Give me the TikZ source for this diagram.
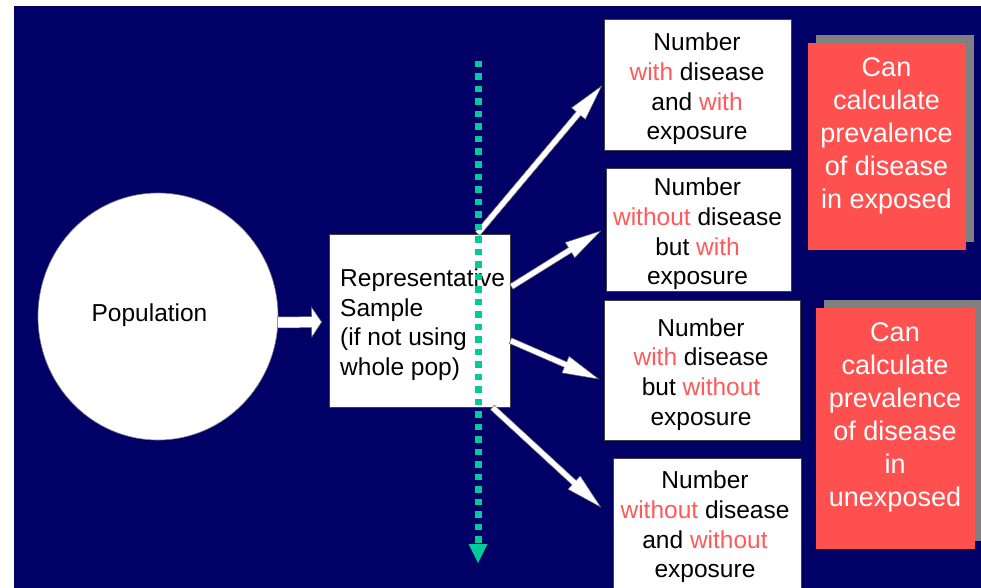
\documentclass[tikz,border=0pt]{standalone}
\usepackage{fontspec}
\setmainfont{Liberation Sans}
\usetikzlibrary{calc,shapes.geometric,shadows}

\definecolor{bgnavy}{HTML}{000066}
\definecolor{boxred}{HTML}{FF5050}
\definecolor{wordred}{HTML}{FF5A5A}
\definecolor{shadowgray}{HTML}{808080}
\definecolor{divider}{HTML}{00CC99}

\newcommand{\redword}[1]{\textcolor{wordred}{#1}}

% Block arrow from #1 to #2: half shaft width #3, half head width #4, head length #5 (pt)
\newcommand{\blockarrow}[5]{%
  \draw[arrowbody] let \p1=($(#2)-(#1)$), \n1={atan2(\y1,\x1)}, \n2={veclen(\x1,\y1)} in
    ($(#1)+(\n1+90:#3pt)$)
    -- ($(#1)+(\n1:{\n2-#5pt})+(\n1+90:#3pt)$)
    -- ($(#1)+(\n1:{\n2-#5pt})+(\n1+90:#4pt)$)
    -- (#2)
    -- ($(#1)+(\n1:{\n2-#5pt})+(\n1-90:#4pt)$)
    -- ($(#1)+(\n1:{\n2-#5pt})+(\n1-90:#3pt)$)
    -- ($(#1)+(\n1-90:#3pt)$)
    -- cycle;}

\begin{document}
\begin{tikzpicture}[x=1pt,y=-1pt,
  wbox/.style={rectangle, draw=black!75, line width=0.8pt, fill=white, inner sep=0pt},
  redbox/.style={rectangle, fill=boxred, inner sep=0pt,
    general shadow={fill=shadowgray, shadow xshift=8pt, shadow yshift=8pt}},
  bodytext/.style={font=\fontsize{24.5}{29.7}\selectfont, align=center, inner sep=0pt, text=black},
  redtext/.style={font=\fontsize{27}{33}\selectfont, align=center, inner sep=0pt, text=white},
  arrowbody/.style={fill=white, draw=black!60, line width=0.5pt, line join=miter},
]
\useasboundingbox (0,0) rectangle (981,588);
\clip (0,0) rectangle (981,588);
\fill[bgnavy] (14,6) rectangle (981,588);

% conclusion panels
\node[redbox, minimum width=158pt, minimum height=207pt] (r1) at (887,146.5) {};
\node[redtext] (r1t) at (886.5,135.5) {Can\\calculate\\prevalence\\of disease\\in exposed};
\node[redbox, minimum width=159pt, minimum height=241pt] (r2) at (895.5,428.5) {};
\node[redtext] (r2t) at (895,417.5) {Can\\calculate\\prevalence\\of disease\\in\\unexposed};

% outcome boxes
\node[wbox, minimum width=187pt, minimum height=131pt] (b1) at (697.5,84.5) {};
\node[bodytext] (b1t) at (697,89) {Number\\\redword{with} disease\\and \redword{with}\\exposure};
\node[wbox, minimum width=185pt, minimum height=123pt] (b2) at (698.5,229.5) {};
\node[bodytext] (b2t) at (697.5,234) {Number\\\redword{without} disease\\but \redword{with}\\exposure};
\node[wbox, minimum width=196pt, minimum height=140pt] (b3) at (702,370) {};
\node[bodytext] (b3t) at (701,374.5) {Number\\\redword{with} disease\\but \redword{without}\\exposure};
\node[wbox, minimum width=188pt, minimum height=133pt] (b4) at (707,524.5) {};
\node[bodytext] (b4t) at (705,527) {Number\\\redword{without} disease\\and \redword{without}\\exposure};

% population and sample
\node[ellipse, draw=black!50, line width=0.6pt, fill=white, inner sep=0pt,
      minimum width=240pt, minimum height=247pt] (pop) at (158,316.5) {};
\node[bodytext] (poptext) at (149.5,315.6) {Population};
\node[wbox, minimum width=181pt, minimum height=173pt] (sample) at (419.5,320.5) {};
\node[bodytext, align=left, anchor=west] (sampletext) at (340,324.6)
  {Representative\\Sample\\(if not using\\whole pop)};

% arrow ends
\coordinate (pa) at ($(pop.east)+(-1,6)$);
\coordinate (pb) at ($(sample.west)+(-7,1.5)$);
\coordinate (t1) at ($(sample.north west)+(149,0)$);
\coordinate (t2) at ($(sample.north east)+(1,53)$);
\coordinate (t3) at ($(sample.north east)+(0,107)$);
\coordinate (t4) at ($(sample.south east)+(-18,0)$);
\coordinate (h1) at ($(b1.west)+(-2,1.5)$);
\coordinate (h2) at ($(b2.west)+(-5,1.5)$);
\coordinate (h3) at ($(b3.west)+(-5,9)$);
\coordinate (h4) at ($(b4.west)+(-12,-17.5)$);

\blockarrow{pa}{pb}{5.5}{15}{10}
\blockarrow{t1}{h1}{3}{9}{36}
\blockarrow{t2}{h2}{3}{9}{36}
\blockarrow{t3}{h3}{3}{9}{36}
\blockarrow{t4}{h4}{3}{9}{36}

% dotted divider
\coordinate (gtop) at (478,61);
\coordinate (gbase) at (478,544);
\coordinate (gtip) at (478,563);
\draw[divider, line width=7pt, dash pattern=on 6.5pt off 6pt] (gtop) -- (gbase);
\fill[divider] ($(gbase)+(-9.5,0)$) -- ($(gbase)+(9.5,0)$) -- (gtip) -- cycle;
\end{tikzpicture}
\end{document}
